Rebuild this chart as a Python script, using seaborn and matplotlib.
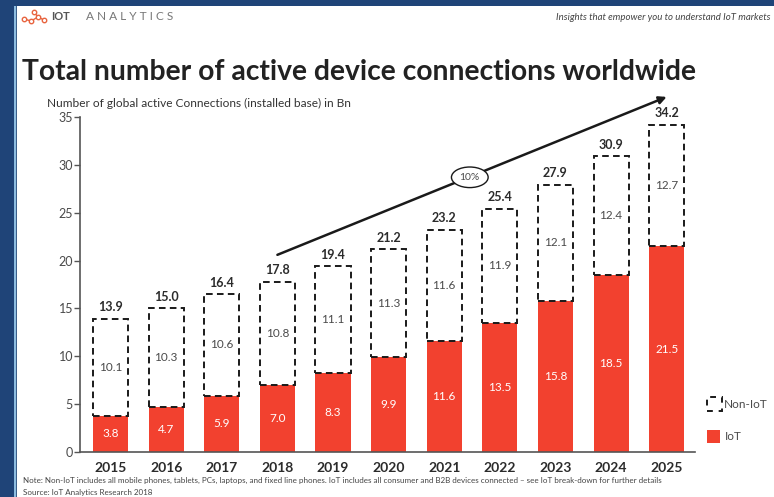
import numpy as np
import pandas as pd
import matplotlib
matplotlib.use("Agg")
import matplotlib.pyplot as plt
from matplotlib.patches import Rectangle, Ellipse
from matplotlib.lines import Line2D
import seaborn as sns

# ---- data (billions of active connections) ----
years = ["2015", "2016", "2017", "2018", "2019", "2020", "2021", "2022", "2023", "2024", "2025"]
iot = [3.8, 4.7, 5.9, 7.0, 8.3, 9.9, 11.6, 13.5, 15.8, 18.5, 21.5]
non_iot = [10.1, 10.3, 10.6, 10.8, 11.1, 11.3, 11.6, 11.9, 12.1, 12.4, 12.7]
totals = [13.9, 15.0, 16.4, 17.8, 19.4, 21.2, 23.2, 25.4, 27.9, 30.9, 34.2]
y_ticks = [0, 5, 10, 15, 20, 25, 30, 35]
cagr_label = "10%"

RED = "#F2412F"
DARK = "#2b2b2b"
GREY = "#4a4a4a"
NAVY = "#1F4478"

sns.set_theme(style="white")
plt.rcParams["font.family"] = ["Lato", "DejaVu Sans"]

df = pd.DataFrame({"year": years, "iot": iot, "non_iot": non_iot, "total": totals})

fig = plt.figure(figsize=(7.74, 4.97), dpi=100)
fig.patch.set_facecolor("white")

# frame decoration: navy band on top and left, light blue rule
fig.patches.append(Rectangle((0, 1 - 6 / 497), 1, 6 / 497, transform=fig.transFigure,
                             facecolor=NAVY, edgecolor="none", zorder=0))
fig.patches.append(Rectangle((0, 0), 14 / 774, 1, transform=fig.transFigure,
                             facecolor=NAVY, edgecolor="none", zorder=0))
fig.patches.append(Rectangle((14 / 774, 0), 2 / 774, 1 - 6 / 497, transform=fig.transFigure,
                             facecolor="#8DBCE0", edgecolor="none", zorder=0))
fig.patches.append(Rectangle((16 / 774, 0), 1 / 774, 1 - 6 / 497, transform=fig.transFigure,
                             facecolor="#3a5f8a", edgecolor="none", zorder=0))

ax = fig.add_axes([80 / 774, 1 - 452 / 497, 615 / 774, 335 / 497])

sns.barplot(data=df, x="year", y="iot", order=years, color=RED, saturation=1,
            width=0.63, linewidth=0, ax=ax, zorder=2)
sns.barplot(data=df, x="year", y="non_iot", order=years, bottom=df["iot"].values,
            color="white", saturation=1, width=0.63, edgecolor="#1a1a1a",
            linewidth=1.4, linestyle=(0, (3.4, 2.2)), ax=ax, zorder=3)

ax.set_xlim(-0.55, 10.51)
ax.set_ylim(0, 35)
ax.set_yticks(y_ticks)
ax.set_yticklabels([str(t) for t in y_ticks], fontsize=9, color=GREY)
ax.set_xticks(range(len(years)))
ax.set_xticklabels(years, fontsize=10, fontweight="bold", color=DARK)
ax.set_xlabel("")
ax.set_ylabel("")
for side in ("top", "right"):
    ax.spines[side].set_visible(False)
for side in ("left", "bottom"):
    ax.spines[side].set_color("#555555")
    ax.spines[side].set_linewidth(1.2)
ax.tick_params(axis="y", left=True, length=4, width=1, color="#555555", pad=1)
ax.tick_params(axis="x", bottom=False, pad=1.5)

# value labels
for i in range(len(years)):
    ax.text(i, iot[i] / 2, f"{iot[i]:.1f}", ha="center", va="center",
            fontsize=8.5, color="white", zorder=5)
    ax.text(i, iot[i] + non_iot[i] / 2, f"{non_iot[i]:.1f}", ha="center", va="center",
            fontsize=8.5, color=GREY, zorder=5)
    ax.annotate(f"{totals[i]:.1f}", (i, totals[i]), xytext=(0, 4), textcoords="offset points",
                ha="center", va="bottom", fontsize=9, fontweight="bold", color=DARK,
                annotation_clip=False)

# growth arrow with CAGR bubble
ax.annotate("", xy=(10.0, 37.1), xytext=(3.0, 20.6), annotation_clip=False,
            arrowprops=dict(arrowstyle="-|>", lw=1.8, color="#1a1a1a",
                            mutation_scale=11, shrinkA=0, shrinkB=0), zorder=6)
ell = Ellipse((6.46, 28.7), 0.66, 2.15, facecolor="white", edgecolor="#1a1a1a",
              linewidth=1.0, zorder=7, clip_on=False)
ax.add_patch(ell)
ax.text(6.46, 28.7, cagr_label, ha="center", va="center", fontsize=7.5, color=GREY, zorder=8)

# legend drawn at the right of the plot
W, H = 774, 497
def fx(px):
    return px / W
def fy(py):
    return 1 - py / H
fig.patches.append(Rectangle((fx(707), fy(411)), 15 / W, 14 / H, transform=fig.transFigure,
                             facecolor="white", edgecolor="#1a1a1a", linewidth=1.4,
                             linestyle=(0, (3, 3))))
fig.text(fx(724), fy(404), "Non-IoT", fontsize=8.5, color=GREY, ha="left", va="center")
fig.patches.append(Rectangle((fx(707), fy(443)), 13 / W, 13 / H, transform=fig.transFigure,
                             facecolor=RED, edgecolor="none"))
fig.text(fx(725), fy(437), "IoT", fontsize=8.5, color=GREY, ha="left", va="center")

# header
logo_pts = [(24, 19), (31, 21), (38, 17), (44, 20), (34, 12)]
xs = [fx(p[0]) for p in logo_pts]
ys = [fy(p[1]) for p in logo_pts]
fig.lines.append(Line2D(xs[:4], ys[:4], transform=fig.transFigure, color="#E8643F", lw=1))
fig.lines.append(Line2D([xs[2], xs[4]], [ys[2], ys[4]], transform=fig.transFigure,
                        color="#E8643F", lw=1))
fig.lines.append(Line2D(xs, ys, transform=fig.transFigure, color="#E8643F", lw=0,
                        marker="o", markersize=3.2, markerfacecolor="white",
                        markeredgecolor="#E8643F", markeredgewidth=1))
fig.text(fx(51), fy(17), "IOT", fontsize=8, fontweight="bold", color="#555555",
         ha="left", va="center")
fig.text(fx(86), fy(17), "A N A L Y T I C S", fontsize=8.6, color="#777777",
         ha="left", va="center")
fig.text(fx(771), fy(17), "Insights that empower you to understand IoT markets",
         fontsize=6.9, style="italic", color="#444444", ha="right", va="center")

fig.text(fx(22), fy(72), "Total number of active device connections worldwide",
         fontsize=20.3, fontweight="bold", color="#222222", ha="left", va="center")
fig.text(fx(47), fy(103), "Number of global active Connections (installed base) in Bn",
         fontsize=8.6, color="#333333", ha="left", va="center")

fig.text(fx(23), fy(480),
         "Note: Non-IoT includes all mobile phones, tablets, PCs, laptops, and fixed line phones. "
         "IoT includes all consumer and B2B devices connected \u2013 see IoT break-down for further details",
         fontsize=5.8, color="#444444", ha="left", va="center")
fig.text(fx(23), fy(492), "Source: IoT Analytics Research 2018",
         fontsize=5.8, color="#444444", ha="left", va="center")

fig.savefig("out.png", dpi=100)
